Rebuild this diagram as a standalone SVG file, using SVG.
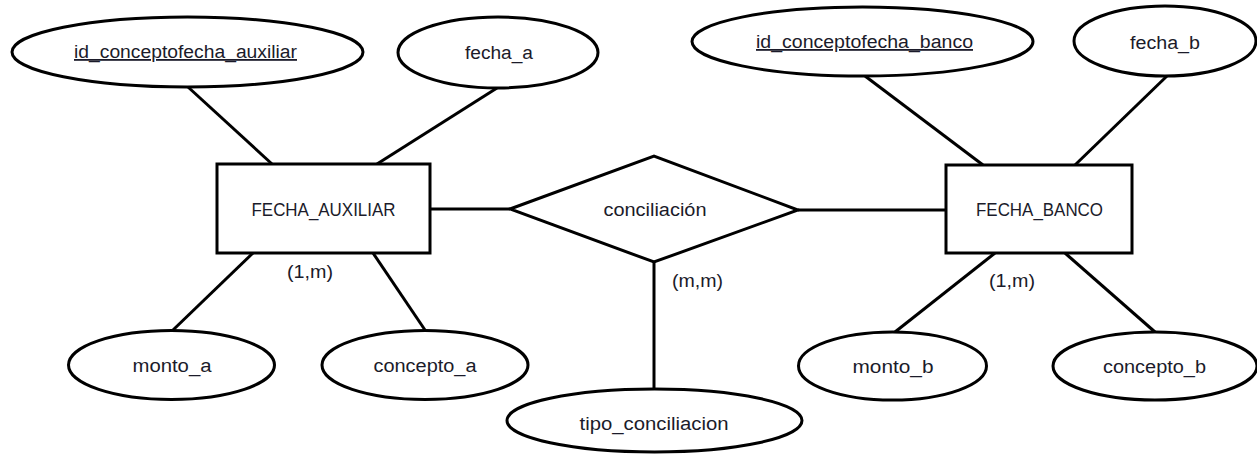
<svg xmlns="http://www.w3.org/2000/svg" width="1257" height="457" viewBox="0 0 1257 457">
<style>
.s{fill:#fff;stroke:#000;stroke-width:3}
.c{stroke:#000;stroke-width:3;fill:none}
.t{font-family:"Liberation Sans",Arial,sans-serif;font-size:18px;fill:#1b1b2a;text-anchor:middle}
.u{text-decoration:underline}
</style>
<rect width="1257" height="457" fill="#fff"/>
<g id="connectors">
<line class="c" x1="188" y1="87" x2="272" y2="164"/>
<line class="c" x1="497" y1="88" x2="377" y2="164"/>
<line class="c" x1="430" y1="209" x2="510" y2="209"/>
<line class="c" x1="798" y1="210" x2="946" y2="210"/>
<line class="c" x1="865" y1="76" x2="983" y2="165"/>
<line class="c" x1="1167" y1="76" x2="1075" y2="165"/>
<line class="c" x1="253" y1="253" x2="173" y2="330"/>
<line class="c" x1="373" y1="253" x2="425" y2="330"/>
<line class="c" x1="995" y1="253" x2="895" y2="332"/>
<line class="c" x1="1065" y1="253" x2="1155" y2="332"/>
<line class="c" x1="654" y1="262" x2="654" y2="389"/>
</g>
<g id="id_conceptofecha_auxiliar">
<ellipse class="s" cx="187.5" cy="52" rx="175.5" ry="35"/>
<text class="t u" x="185.5" y="58" textLength="223" lengthAdjust="spacingAndGlyphs">id_conceptofecha_auxiliar</text>
</g>
<g id="fecha_a">
<ellipse class="s" cx="498" cy="52.5" rx="100" ry="35.5"/>
<text class="t" x="499" y="59" textLength="68" lengthAdjust="spacingAndGlyphs">fecha_a</text>
</g>
<g id="FECHA_AUXILIAR">
<rect class="s" x="217" y="164" width="213" height="89"/>
<text class="t" x="323.5" y="216" textLength="144" lengthAdjust="spacingAndGlyphs">FECHA_AUXILIAR</text>
</g>
<g id="conciliacion">
<polygon class="s" points="510,209 654,156 798,210 654,262"/>
<text class="t" x="655" y="216" textLength="103" lengthAdjust="spacingAndGlyphs">conciliación</text>
</g>
<g id="FECHA_BANCO">
<rect class="s" x="946" y="165" width="186" height="88"/>
<text class="t" x="1039.5" y="216" textLength="127" lengthAdjust="spacingAndGlyphs">FECHA_BANCO</text>
</g>
<g id="id_conceptofecha_banco">
<ellipse class="s" cx="862.5" cy="41.5" rx="170.5" ry="34.5"/>
<text class="t u" x="864.5" y="48" textLength="217" lengthAdjust="spacingAndGlyphs">id_conceptofecha_banco</text>
</g>
<g id="fecha_b">
<ellipse class="s" cx="1165" cy="41" rx="91" ry="35"/>
<text class="t" x="1165" y="49" textLength="70" lengthAdjust="spacingAndGlyphs">fecha_b</text>
</g>
<g id="monto_a">
<ellipse class="s" cx="171.5" cy="365" rx="103" ry="34.5"/>
<text class="t" x="172" y="372" textLength="79" lengthAdjust="spacingAndGlyphs">monto_a</text>
</g>
<g id="concepto_a">
<ellipse class="s" cx="425" cy="365" rx="103" ry="34.5"/>
<text class="t" x="425" y="372" textLength="103" lengthAdjust="spacingAndGlyphs">concepto_a</text>
</g>
<g id="monto_b">
<ellipse class="s" cx="892.5" cy="366" rx="94" ry="34"/>
<text class="t" x="893" y="373" textLength="81" lengthAdjust="spacingAndGlyphs">monto_b</text>
</g>
<g id="concepto_b">
<ellipse class="s" cx="1155" cy="366" rx="102" ry="34"/>
<text class="t" x="1154.5" y="373" textLength="103" lengthAdjust="spacingAndGlyphs">concepto_b</text>
</g>
<g id="tipo_conciliacion">
<ellipse class="s" cx="654.5" cy="420.5" rx="147.5" ry="31.5"/>
<text class="t" x="654" y="430" textLength="149" lengthAdjust="spacingAndGlyphs">tipo_conciliacion</text>
</g>
<g id="cardinalities">
<text class="t" x="310" y="278" textLength="46" lengthAdjust="spacingAndGlyphs">(1,m)</text>
<text class="t" x="697.5" y="287" textLength="51" lengthAdjust="spacingAndGlyphs">(m,m)</text>
<text class="t" x="1012" y="287" textLength="46" lengthAdjust="spacingAndGlyphs">(1,m)</text>
</g>
</svg>
